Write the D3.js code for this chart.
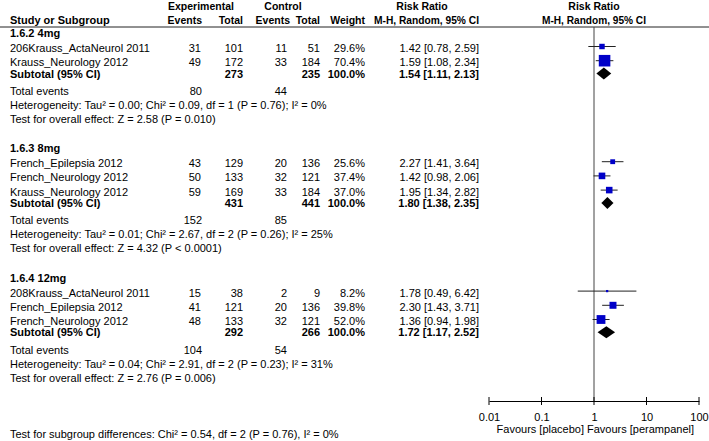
<!DOCTYPE html>
<html>
<head>
  <title>Forest plot</title>
  <script src="https://d3js.org/d3.v7.min.js"></script>
  <style>
    body { margin: 0; background: #fff; }
    text { font-family: "Liberation Sans", Arial, sans-serif; font-size: 11px; fill: #000; }
    .b { font-weight: bold; }
    .h { font-weight: bold; font-size: 10.5px; }
  </style>
</head>

<body>
  <script>
    // data
    const groupNames = ["1.6.2 4mg", "1.6.3 8mg", "1.6.4 12mg"];
    const studyGroup = [0, 0, 1, 1, 1, 2, 2, 2];
    const studyNames = ["206Krauss_ActaNeurol 2011", "Krauss_Neurology 2012",
      "French_Epilepsia 2012", "French_Neurology 2012", "Krauss_Neurology 2012",
      "208Krauss_ActaNeurol 2011", "French_Epilepsia 2012", "French_Neurology 2012"];
    const expEvents = [31, 49, 43, 50, 59, 15, 41, 48];
    const expTotal = [101, 172, 129, 133, 169, 38, 121, 133];
    const ctlEvents = [11, 33, 20, 32, 33, 2, 20, 32];
    const ctlTotal = [51, 184, 136, 121, 184, 9, 136, 121];
    const weights = [29.6, 70.4, 25.6, 37.4, 37.0, 8.2, 39.8, 52.0];
    const rr = [1.42, 1.59, 2.27, 1.42, 1.95, 1.78, 2.30, 1.36];
    const rrLow = [0.78, 1.08, 1.41, 0.98, 1.34, 0.49, 1.43, 0.94];
    const rrHigh = [2.59, 2.34, 3.64, 2.06, 2.82, 6.42, 3.71, 1.98];

    const subExpTotal = [273, 431, 292];
    const subCtlTotal = [235, 441, 266];
    const subExpEvents = [80, 152, 104];
    const subCtlEvents = [44, 85, 54];
    const subRR = [1.54, 1.80, 1.72];
    const subLow = [1.11, 1.38, 1.17];
    const subHigh = [2.13, 2.35, 2.52];
    const heterogeneity = [
      "Heterogeneity: Tau² = 0.00; Chi² = 0.09, df = 1 (P = 0.76); I² = 0%",
      "Heterogeneity: Tau² = 0.01; Chi² = 2.67, df = 2 (P = 0.26); I² = 25%",
      "Heterogeneity: Tau² = 0.04; Chi² = 2.91, df = 2 (P = 0.23); I² = 31%"];
    const overallEffect = [
      "Test for overall effect: Z = 2.58 (P = 0.010)",
      "Test for overall effect: Z = 4.32 (P < 0.0001)",
      "Test for overall effect: Z = 2.76 (P = 0.006)"];
    const subgroupTest = "Test for subgroup differences: Chi² = 0.54, df = 2 (P = 0.76), I² = 0%";
    const axisTicks = [0.01, 0.1, 1, 10, 100];
    const favours = ["Favours [placebo]", "Favours [perampanel]"];

    const width = 709, height = 441;
    const axisY = 401, topY = 27;

    let x = d3.scaleLog().domain([0.01, 100]).range([489, 699]);
    let box = d3.scaleLinear().domain([0, 100]).range([1, 16]);
    let fmt = d3.format(".2f");
    let ci = (m, l, h) => fmt(m) + " [" + fmt(l) + ", " + fmt(h) + "]";

    // column right edges
    const col = { ee: 201, et: 243, ce: 287, ct: 320, w: 365, rr: 479 };

    let svg = d3.select("body")
      .append("svg")
      .attr("width", width)
      .attr("height", height);

    function txt(xp, yp, s, anchor, cls) {
      return svg.append("text")
        .attr("x", xp)
        .attr("y", yp)
        .attr("text-anchor", anchor || "start")
        .attr("class", cls || null)
        .text(s);
    }

    // header
    txt(201, 10, "Experimental", "middle", "h");
    txt(283, 10, "Control", "middle", "h");
    txt(422, 10, "Risk Ratio", "middle", "h");
    txt(x(1), 10, "Risk Ratio", "middle", "h");
    txt(10, 24, "Study or Subgroup", "start", "b");
    txt(col.ee + 1, 24, "Events", "end", "h");
    txt(col.et, 24, "Total", "end", "h");
    txt(col.ce + 3, 24, "Events", "end", "h");
    txt(col.ct, 24, "Total", "end", "h");
    txt(col.w, 24, "Weight", "end", "h");
    txt(426.5, 24, "M-H, Random, 95% CI", "middle", "h")
      .attr("textLength", 105).attr("lengthAdjust", "spacingAndGlyphs");
    txt(x(1), 24, "M-H, Random, 95% CI", "middle", "h")
      .attr("textLength", 104).attr("lengthAdjust", "spacingAndGlyphs");

    svg.append("line")
      .attr("x1", 0).attr("x2", width)
      .attr("y1", topY).attr("y2", topY)
      .style("stroke", "#222");

    // row layout (text centre lines)
    let rows = [];
    let y = 33;
    groupNames.forEach((g, gi) => {
      rows.push({ type: "group", g: gi, y: y });
      y += 15;
      let first = true;
      studyNames.forEach((s, i) => {
        if (studyGroup[i] !== gi) return;
        if (!first) y += 14.2;
        first = false;
        rows.push({ type: "study", i: i, y: y });
      });
      y += 11.3; rows.push({ type: "sub", g: gi, y: y });
      y += 17.5; rows.push({ type: "events", g: gi, y: y });
      y += 14; rows.push({ type: "het", g: gi, y: y });
      y += 13.7; rows.push({ type: "test", g: gi, y: y });
      y += 29.5;
    });

    // null line
    svg.append("line")
      .attr("x1", x(1)).attr("x2", x(1))
      .attr("y1", topY).attr("y2", axisY)
      .style("stroke", "#444");

    rows.forEach(r => {
      let b = r.y + 4;
      if (r.type === "group") {
        txt(10, b, groupNames[r.g], "start", "b");
      } else if (r.type === "study") {
        let i = r.i;
        txt(10, b, studyNames[i]);
        txt(col.ee, b, expEvents[i], "end");
        txt(col.et, b, expTotal[i], "end");
        txt(col.ce, b, ctlEvents[i], "end");
        txt(col.ct, b, ctlTotal[i], "end");
        txt(col.w, b, weights[i].toFixed(1) + "%", "end");
        txt(col.rr, b, ci(rr[i], rrLow[i], rrHigh[i]), "end");

        let my = r.y - 1.5;
        svg.append("line")
          .attr("x1", x(rrLow[i])).attr("x2", x(rrHigh[i]))
          .attr("y1", my).attr("y2", my)
          .style("stroke", "#222");
        let s = box(weights[i]);
        svg.append("rect")
          .attr("x", x(rr[i]) - s / 2)
          .attr("y", my - s / 2)
          .attr("width", s)
          .attr("height", s)
          .style("fill", "#0000c8");
      } else if (r.type === "sub") {
        let g = r.g;
        txt(10, b, "Subtotal (95% CI)", "start", "b");
        txt(col.et, b, subExpTotal[g], "end", "b");
        txt(col.ct, b, subCtlTotal[g], "end", "b");
        txt(col.w, b, "100.0%", "end", "b");
        txt(col.rr, b, ci(subRR[g], subLow[g], subHigh[g]), "end", "b");

        let my = r.y;
        svg.append("path")
          .attr("d", "M" + x(subLow[g]) + "," + my +
            "L" + x(subRR[g]) + "," + (my - 6) +
            "L" + x(subHigh[g]) + "," + my +
            "L" + x(subRR[g]) + "," + (my + 6) + "Z")
          .style("fill", "#000");
      } else if (r.type === "events") {
        txt(10, b, "Total events");
        txt(col.ee + 1, b, subExpEvents[r.g], "end");
        txt(col.ce, b, subCtlEvents[r.g], "end");
      } else if (r.type === "het") {
        txt(10, b, heterogeneity[r.g]);
      } else {
        txt(10, b, overallEffect[r.g]);
      }
    });

    // bottom axis
    let axis = svg.append("g")
      .attr("transform", "translate(0," + axisY + ")")
      .call(d3.axisBottom(x).tickValues(axisTicks).tickSize(0).tickFormat(d => d));
    axis.select(".domain").style("stroke", "#000");
    axis.selectAll("text")
      .attr("y", 20)
      .attr("dy", 0)
      .style("font-size", "11px")
      .style("font-family", "Liberation Sans, Arial, sans-serif");
    axis.selectAll(".tick line").remove();

    svg.selectAll(".tk")
      .data(axisTicks)
      .enter()
      .append("line")
      .attr("class", "tk")
      .attr("x1", d => x(d)).attr("x2", d => x(d))
      .attr("y1", axisY - 4).attr("y2", axisY + 4)
      .style("stroke", "#000");

    txt(x(1) - 10, 433, favours[0], "end");
    txt(x(1) - 7, 433, favours[1], "start");

    txt(10, 438, subgroupTest);
  </script>
</body>
</html>
